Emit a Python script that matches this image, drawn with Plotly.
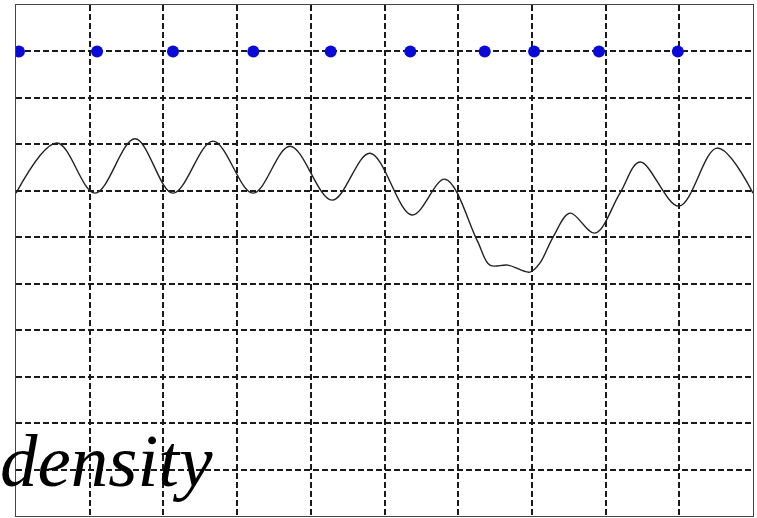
import plotly.graph_objects as go

# time (divisions) and amplitude (divisions) of the trace
trace_t = [0.0, 0.556, 1.072, 1.615, 2.13, 2.673, 3.216, 3.718, 4.288, 4.803,
           5.373, 5.821, 6.255, 6.43, 6.676, 6.974, 7.11, 7.286, 7.517,
           7.856, 8.195, 8.467, 8.996, 9.512, 10.0]
trace_v = [6.95, 8.03, 6.95, 8.12, 6.95, 8.07, 6.95, 7.96, 6.80, 7.81,
           6.48, 7.25, 5.94, 5.40, 5.40, 5.25, 5.45, 6.00, 6.52,
           6.09, 6.95, 7.62, 6.67, 7.92, 6.95]

# marker pulses
pulse_t = [0.04, 1.10, 2.13, 3.22, 4.27, 5.35, 6.36, 7.03, 7.91, 8.98]
pulse_v = [10, 10, 10, 10, 10, 10, 10, 10, 10, 10]

label_text = "density"

fig = go.Figure()
fig.add_trace(go.Scatter(x=trace_t, y=trace_v, mode="lines",
                         line=dict(color="#222222", width=1.4, shape="spline", smoothing=1.0),
                         hoverinfo="skip"))
fig.add_trace(go.Scatter(x=pulse_t, y=pulse_v, mode="markers",
                         marker=dict(color="#0a0ad8", size=12, line=dict(width=0)),
                         cliponaxis=True, hoverinfo="skip"))

W, H = 757, 518
ml, mr, mt, mb = 16, 4, 5, 2
pw = W - ml - mr
ph = H - mt - mb

fig.add_annotation(text=label_text, xref="paper", yref="paper",
                   x=(-2 - ml) / pw, y=(H - mb - 504) / ph,
                   xanchor="left", yanchor="bottom", showarrow=False,
                   font=dict(family="Liberation Serif", size=75, color="black",
                             style="italic"))

axis_common = dict(showgrid=True, gridcolor="#1a1a1a", gridwidth=1.5, griddash="6px,3px",
                   showline=True, mirror=True, linecolor="#444", linewidth=1,
                   zeroline=False, showticklabels=False, ticks="", dtick=1, tick0=0)

fig.update_layout(
    width=W, height=H,
    margin=dict(l=ml, r=mr, t=mt, b=mb),
    paper_bgcolor="white", plot_bgcolor="white",
    showlegend=False,
    xaxis=dict(range=[0, 10], **axis_common),
    yaxis=dict(range=[0, 11], **axis_common),
)

fig.write_html("out.html")
